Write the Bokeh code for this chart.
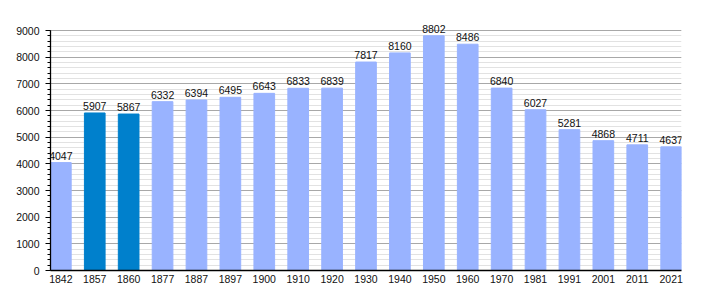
from bokeh.plotting import figure
from bokeh.models import ColumnDataSource, FixedTicker, Range1d, LabelSet
from bokeh.core.properties import value
from bokeh.embed import file_html
from bokeh.resources import INLINE

years = ["1842", "1857", "1860", "1877", "1887", "1897", "1900", "1910", "1920", "1930",
         "1940", "1950", "1960", "1970", "1981", "1991", "2001", "2011", "2021"]
population = [4047, 5907, 5867, 6332, 6394, 6495, 6643, 6833, 6839, 7817,
              8160, 8802, 8486, 6840, 6027, 5281, 4868, 4711, 4637]
highlighted = ["1857", "1860"]
y_major = list(range(0, 9001, 1000))
y_minor = list(range(0, 9001, 200))

LIGHT = "#99b3ff"
DARK = "#0080cc"
FONT = "Liberation Sans"
BAR_W = 0.61

xs = list(range(len(years)))
colors = [DARK if y in highlighted else LIGHT for y in years]
src = ColumnDataSource(dict(x=xs, pop=population, color=colors,
                            label=[str(v) for v in population]))

# frame: 9000 units -> 240 px; extra room above for value labels
Y_MAX = 9000
Y_END = Y_MAX * 254 / 240

p = figure(width=710, height=300, output_backend="svg", toolbar_location=None,
           x_range=Range1d(-BAR_W / 2, len(years) - 1 + BAR_W / 2),
           y_range=Range1d(0, Y_END),
           min_border_left=50, min_border_right=29, min_border_top=16, min_border_bottom=30)
p.outline_line_color = None
p.background_fill_color = "white"
p.border_fill_color = "white"

p.vbar(x="x", top="pop", width=BAR_W, color="color", source=src)
labels = LabelSet(x="x", y="pop", text="label", source=src, text_align="center",
                  text_baseline="bottom", y_offset=3, text_font=value(FONT),
                  text_font_size=value("10.5px"), text_color=value("#111111"),
                  level="overlay")
p.add_layout(labels)

p.xgrid.visible = False
yt = FixedTicker(ticks=y_major, minor_ticks=y_minor)
p.yaxis.ticker = yt
p.ygrid.ticker = yt
p.ygrid.grid_line_color = "#a8a8a8"
p.ygrid.grid_line_width = 1
p.ygrid.minor_grid_line_color = "#e2e2e2"
p.ygrid.minor_grid_line_width = 1
p.yaxis.bounds = (0, Y_MAX)

p.xaxis.ticker = FixedTicker(ticks=xs)
p.xaxis.major_label_overrides = {i: y for i, y in enumerate(years)}
p.xaxis.major_tick_line_color = None
p.xaxis.minor_tick_line_color = None
p.xaxis.major_tick_out = 0
p.xaxis.major_tick_in = 0
p.xaxis.minor_tick_out = 0
p.xaxis.major_label_standoff = 4

for ax in (p.xaxis[0], p.yaxis[0]):
    ax.axis_line_color = "black"
    ax.axis_line_width = 1.3
    ax.major_label_text_font = FONT
    ax.major_label_text_font_size = "10.5px"
    ax.major_label_text_color = "#111111"

p.yaxis.major_tick_out = 5
p.yaxis.major_tick_in = 0
p.yaxis.minor_tick_out = 3
p.yaxis.minor_tick_in = 0
p.yaxis.major_tick_line_color = "black"
p.yaxis.minor_tick_line_color = "black"
p.yaxis.major_label_standoff = 6

open("out.html", "w").write(file_html(p, INLINE))
